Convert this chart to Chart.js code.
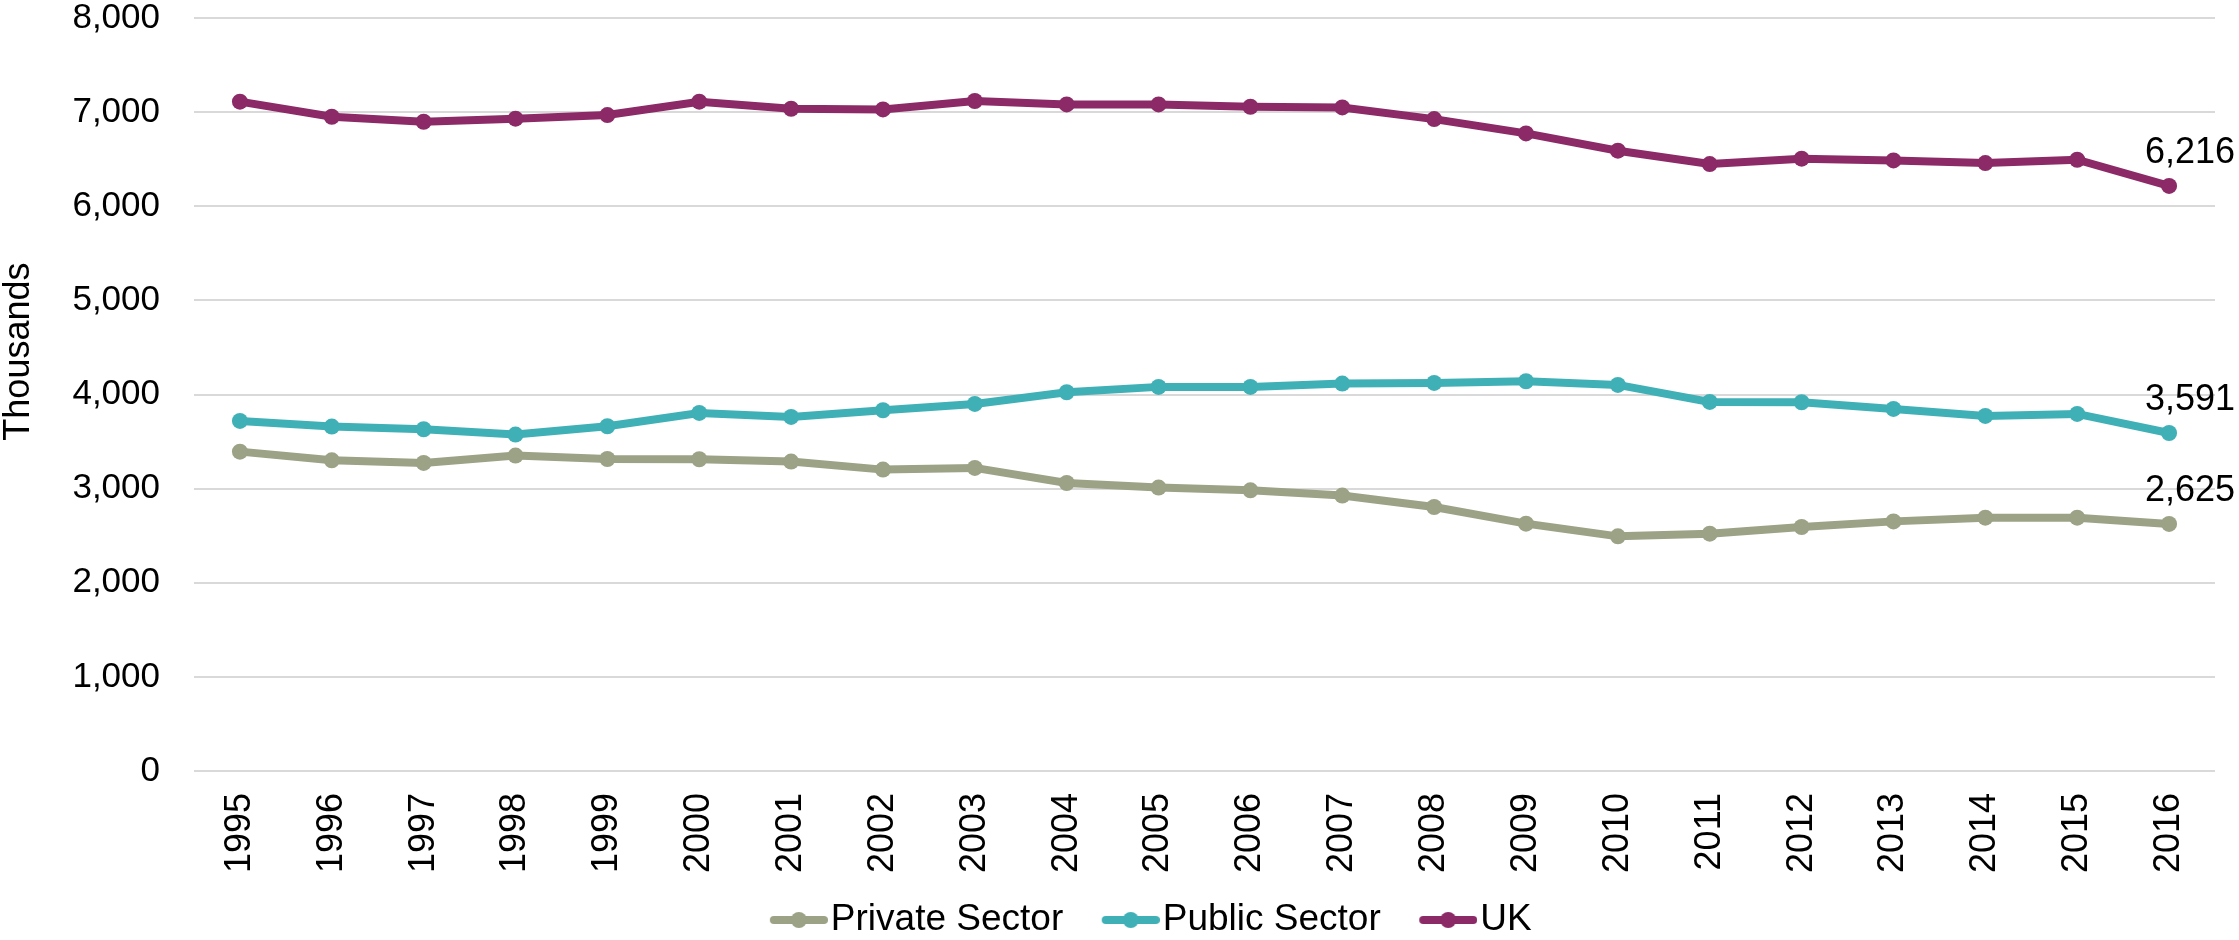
<!DOCTYPE html>
<html>
<head>
<meta charset="utf-8">
<script src="https://cdn.jsdelivr.net/npm/chart.js@4/dist/chart.umd.min.js"></script>
<style>
  html, body { margin: 0; padding: 0; background: #ffffff; }
  #wrap { width: 2239px; height: 940px; }
</style>
</head>
<body>
<div id="wrap"><canvas id="c" width="2239" height="940"></canvas></div>
<script>
// Employment, thousands
const years = ['1995','1996','1997','1998','1999','2000','2001','2002','2003','2004','2005',
               '2006','2007','2008','2009','2010','2011','2012','2013','2014','2015','2016'];
const privateSector = [3393,3301,3273,3351,3315,3312,3287,3202,3220,3060,3011,
                       2982,2926,2805,2628,2493,2521,2592,2652,2691,2691,2625];
const publicSector  = [3719,3659,3631,3574,3663,3804,3762,3833,3900,4024,4081,
                       4081,4116,4123,4141,4102,3921,3918,3847,3772,3794,3591];
const ukTotal       = [7111,6951,6898,6930,6969,7111,7036,7029,7118,7082,7082,
                       7057,7050,6926,6774,6590,6448,6505,6487,6459,6494,6216];
const seriesNames = ['Private Sector', 'Public Sector', 'UK'];
const yMin = 0, yMax = 8000, yStep = 1000;
const axisTitle = 'Thousands';

const COLORS = ['#9BA285', '#40B0B7', '#8B2A66'];
const FONT = "'Liberation Sans', Arial, sans-serif";

// legend swatch: short line with a dot, right-aligned in a wider transparent tile
const SW_PAD = 44, SW_W = 58;
function swatch(color) {
  const c = document.createElement('canvas');
  c.width = SW_PAD + SW_W; c.height = 18;
  const g = c.getContext('2d');
  g.strokeStyle = color; g.lineWidth = 8; g.lineCap = 'round';
  g.beginPath(); g.moveTo(SW_PAD + 4, 9); g.lineTo(SW_PAD + SW_W - 4, 9); g.stroke();
  g.fillStyle = color;
  g.beginPath(); g.arc(SW_PAD + SW_W / 2, 9, 8, 0, Math.PI * 2); g.fill();
  return c;
}
const swatches = COLORS.map(swatch);

// value labels at the last point of every series
const endLabels = {
  id: 'endLabels',
  afterDatasetsDraw(chart) {
    const ctx = chart.ctx;
    ctx.save();
    ctx.font = '36px ' + FONT;
    ctx.fillStyle = '#000000';
    ctx.textAlign = 'center';
    ctx.textBaseline = 'middle';
    chart.data.datasets.forEach((ds, i) => {
      const meta = chart.getDatasetMeta(i);
      const last = ds.data.length - 1;
      const pt = meta.data[last];
      ctx.fillText(ds.data[last].toLocaleString('en-US'), pt.x + 21, pt.y - 33);
    });
    ctx.restore();
  }
};

// vertical axis title, placed beside the tick labels
const sideTitle = {
  id: 'sideTitle',
  afterDraw(chart) {
    const ctx = chart.ctx;
    const a = chart.chartArea;
    ctx.save();
    ctx.font = '36px ' + FONT;
    ctx.fillStyle = '#000000';
    ctx.textAlign = 'center';
    ctx.textBaseline = 'middle';
    ctx.translate(19, a.top + (a.bottom - a.top) * 0.443);
    ctx.rotate(-Math.PI / 2);
    ctx.fillText(axisTitle, 0, 0);
    ctx.restore();
  }
};

// nudge the legend row
const legendNudge = {
  id: 'legendNudge',
  afterLayout(chart) {
    const lg = chart.legend;
    if (!lg) return;
    lg.left += 29; lg.right += 29;
    lg.top += 8.5; lg.bottom += 8.5;
  }
};

const values = [privateSector, publicSector, ukTotal];

new Chart(document.getElementById('c'), {
  type: 'line',
  data: {
    labels: years,
    datasets: seriesNames.map((name, i) => ({
      label: name,
      data: values[i],
      borderColor: COLORS[i],
      backgroundColor: COLORS[i],
      borderWidth: 8,
      pointRadius: 8,
      pointBorderWidth: 0,
      pointBackgroundColor: COLORS[i],
      tension: 0,
      fill: false
    }))
  },
  options: {
    responsive: false,
    devicePixelRatio: 1,
    animation: false,
    layout: { padding: { left: 0, right: 24, top: 18, bottom: 0 } },
    plugins: {
      tooltip: { enabled: false },
      legend: {
        position: 'bottom',
        labels: {
          usePointStyle: true,
          pointStyleWidth: 71,
          padding: 10,
          color: '#000000',
          font: { family: FONT, size: 37 },
          generateLabels(chart) {
            const items = Chart.defaults.plugins.legend.labels.generateLabels(chart);
            items.forEach((it, i) => { it.pointStyle = swatches[i]; });
            return items;
          }
        }
      }
    },
    scales: {
      x: {
        offset: true,
        grid: { display: false },
        border: { display: false },
        ticks: {
          autoSkip: false,
          minRotation: 90,
          maxRotation: 90,
          padding: 14,
          color: '#000000',
          font: { family: FONT, size: 36 }
        },
        afterFit(scale) { scale.height = 112; }
      },
      y: {
        min: yMin,
        max: yMax,
        border: { display: false },
        grid: { color: '#D9D9D9', lineWidth: 2, drawTicks: false },
        ticks: {
          stepSize: yStep,
          padding: 34,
          color: '#000000',
          font: { family: FONT, size: 35, lineHeight: 1 },
          callback: v => v.toLocaleString('en-US')
        },
        afterFit(scale) {
          scale.width = 194;
          scale.paddingTop = 0;
          scale.paddingBottom = 0;
        }
      }
    }
  },
  plugins: [endLabels, sideTitle, legendNudge]
});
</script>
</body>
</html>
